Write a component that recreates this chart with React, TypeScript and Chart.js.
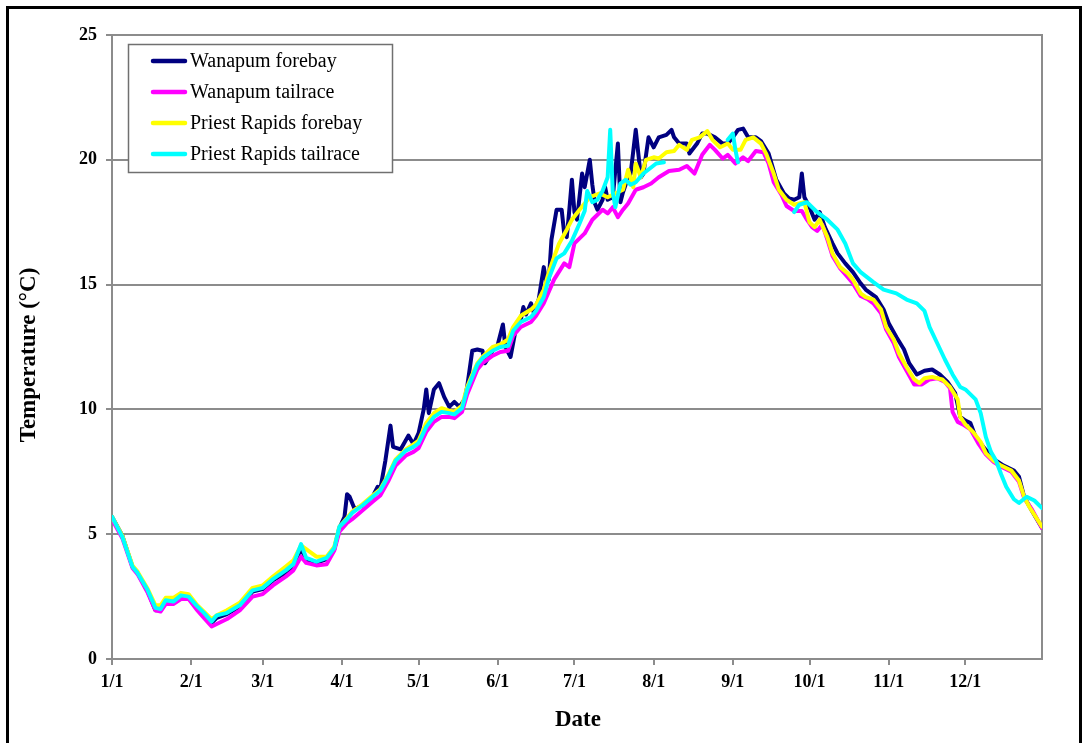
import React, { useEffect, useRef } from "react";
import { Chart, registerables } from "chart.js";

Chart.register(...registerables);

// Month tick positions (day of year) and their labels
const tickDays = [0, 31, 59, 90, 120, 151, 181, 212, 243, 273, 304, 334];
const tickLabels = ["1/1", "2/1", "3/1", "4/1", "5/1", "6/1", "7/1", "8/1", "9/1", "10/1", "11/1", "12/1"];

const seriesNames = ["Wanapum forebay", "Wanapum tailrace", "Priest Rapids forebay", "Priest Rapids tailrace"];
const seriesColors = ["#000080", "#FF00FF", "#FFFF00", "#00FFFF"];

// Wanapum forebay
const wfDays = [0, 4, 8, 10, 14, 17, 19, 21, 24, 27, 30, 33, 36, 39, 41, 45, 50, 55, 59, 63, 68, 71, 74, 76, 80, 84, 87, 89, 91, 92, 93, 95, 98, 102, 104, 105, 107, 109, 110, 113, 116, 118, 120, 122, 123, 124, 126, 128, 130, 132, 134, 136, 138, 139, 141, 143, 145, 146, 149, 151, 153, 154, 156, 158, 160, 161, 162, 164, 165, 167, 169, 170, 171, 172, 174, 176, 177, 178, 179, 180, 181, 182, 184, 185, 186, 187, 188, 189, 190, 192, 193, 194, 196, 198, 199, 200, 202, 203, 205, 206, 207, 208, 210, 212, 214, 217, 219, 220, 222, 225, 226, 229, 231, 233, 236, 239, 241, 243, 245, 247, 249, 252, 254, 257, 260, 263, 265, 267, 269, 270, 271, 273, 275, 277, 279, 282, 284, 287, 290, 293, 295, 299, 302, 304, 307, 310, 312, 315, 318, 321, 324, 327, 330, 332, 334, 336, 338, 341, 344, 346, 349, 353, 355, 357, 360, 364];
const wfTemps = [5.7, 4.95, 3.7, 3.45, 2.7, 1.95, 1.95, 2.3, 2.3, 2.5, 2.45, 2.1, 1.8, 1.45, 1.65, 1.8, 2.1, 2.7, 2.8, 3.15, 3.45, 3.65, 4.45, 3.95, 3.85, 4.0, 4.4, 5.25, 5.7, 6.6, 6.5, 6.0, 6.15, 6.5, 6.9, 6.8, 7.95, 9.35, 8.5, 8.4, 8.95, 8.6, 9.05, 10.0, 10.8, 9.85, 10.8, 11.05, 10.5, 10.1, 10.3, 10.1, 10.4, 10.9, 12.35, 12.4, 12.35, 11.85, 12.35, 12.6, 13.4, 12.5, 12.1, 13.2, 13.6, 14.1, 13.8, 14.25, 13.9, 14.4, 15.7, 15.1, 15.2, 16.8, 18.0, 18.0, 17.05, 16.9, 18.0, 19.2, 17.9, 17.6, 19.45, 18.9, 19.45, 20.0, 19.0, 18.25, 18.0, 18.4, 18.9, 18.4, 18.5, 20.65, 18.3, 18.7, 19.3, 19.45, 21.2, 20.25, 19.3, 19.45, 20.9, 20.5, 20.9, 21.0, 21.2, 20.9, 20.65, 20.65, 20.25, 20.65, 21.05, 21.05, 20.9, 20.65, 20.65, 20.9, 21.2, 21.25, 20.9, 20.9, 20.75, 20.25, 19.2, 18.65, 18.45, 18.4, 18.5, 19.45, 18.5, 18.1, 17.6, 17.9, 17.3, 16.65, 16.25, 15.85, 15.5, 15.05, 14.8, 14.5, 14.0, 13.45, 12.9, 12.4, 11.85, 11.4, 11.55, 11.6, 11.4, 11.1, 10.65, 9.7, 9.55, 9.45, 8.9, 8.5, 8.15, 7.95, 7.75, 7.55, 7.3, 6.5, 5.95, 5.25];

// Wanapum tailrace
const wtDays = [0, 4, 8, 10, 14, 17, 19, 21, 24, 27, 30, 33, 36, 39, 41, 45, 50, 55, 59, 63, 68, 71, 74, 76, 80, 84, 87, 89, 92, 94, 98, 102, 105, 108, 111, 115, 118, 120, 123, 126, 129, 132, 134, 137, 139, 141, 143, 145, 149, 152, 155, 157, 160, 164, 166, 169, 173, 177, 179, 181, 185, 188, 192, 194, 196, 198, 200, 202, 205, 208, 211, 214, 218, 222, 225, 228, 231, 234, 236, 239, 241, 244, 247, 249, 252, 255, 257, 259, 262, 264, 267, 270, 272, 274, 276, 278, 280, 282, 285, 288, 290, 293, 296, 298, 301, 303, 306, 308, 311, 314, 317, 320, 323, 326, 328, 329, 331, 333, 336, 339, 342, 345, 348, 352, 355, 357, 360, 364];
const wtTemps = [5.6, 4.85, 3.65, 3.4, 2.65, 1.95, 1.9, 2.2, 2.2, 2.4, 2.4, 2.0, 1.65, 1.3, 1.4, 1.6, 1.95, 2.5, 2.6, 2.95, 3.3, 3.55, 4.1, 3.85, 3.75, 3.8, 4.35, 5.1, 5.45, 5.6, 5.95, 6.3, 6.55, 7.1, 7.75, 8.15, 8.3, 8.45, 9.1, 9.5, 9.7, 9.7, 9.65, 9.9, 10.6, 11.1, 11.6, 11.85, 12.15, 12.3, 12.35, 12.95, 13.3, 13.5, 13.75, 14.25, 15.2, 15.85, 15.7, 16.65, 17.05, 17.6, 18.0, 17.85, 18.1, 17.7, 18.0, 18.25, 18.8, 18.9, 19.05, 19.3, 19.55, 19.6, 19.75, 19.45, 20.2, 20.6, 20.4, 20.05, 20.2, 19.85, 20.1, 19.95, 20.35, 20.3, 19.85, 19.1, 18.6, 18.15, 17.95, 17.95, 17.6, 17.3, 17.15, 17.4, 16.8, 16.15, 15.65, 15.3, 15.05, 14.55, 14.4, 14.25, 13.85, 13.2, 12.65, 12.1, 11.55, 11.0, 11.0, 11.2, 11.25, 11.1, 10.85, 9.9, 9.5, 9.4, 9.2, 8.65, 8.2, 7.9, 7.7, 7.5, 7.1, 6.45, 6.0, 5.25];

// Priest Rapids forebay
const pfDays = [0, 4, 8, 10, 14, 17, 19, 21, 24, 27, 30, 33, 36, 39, 41, 45, 50, 55, 59, 63, 68, 71, 74, 76, 80, 84, 87, 89, 92, 94, 98, 102, 105, 108, 111, 115, 118, 120, 123, 126, 129, 132, 134, 137, 139, 141, 143, 145, 149, 152, 155, 157, 160, 164, 166, 169, 171, 173, 175, 178, 180, 183, 187, 191, 194, 197, 200, 202, 204, 205, 207, 209, 212, 214, 217, 220, 222, 225, 227, 230, 233, 235, 238, 241, 243, 246, 248, 251, 254, 256, 259, 261, 264, 267, 269, 271, 273, 275, 277, 280, 282, 285, 288, 290, 293, 295, 298, 301, 303, 306, 308, 311, 314, 316, 318, 321, 325, 328, 331, 332, 334, 337, 340, 342, 345, 348, 352, 355, 357, 359, 364];
const pfTemps = [5.7, 4.95, 3.75, 3.5, 2.8, 2.15, 2.15, 2.45, 2.45, 2.65, 2.6, 2.2, 1.9, 1.6, 1.75, 1.95, 2.25, 2.85, 2.95, 3.3, 3.7, 3.95, 4.55, 4.4, 4.1, 4.1, 4.5, 5.3, 5.65, 5.9, 6.2, 6.55, 6.8, 7.35, 8.0, 8.4, 8.6, 8.75, 9.45, 9.85, 10.05, 9.95, 9.9, 10.15, 10.9, 11.4, 11.85, 12.1, 12.5, 12.6, 12.8, 13.3, 13.75, 14.0, 14.2, 14.8, 15.5, 16.1, 16.65, 17.2, 17.6, 18.0, 18.5, 18.65, 18.5, 18.65, 18.8, 19.6, 18.9, 19.85, 19.3, 20.0, 20.1, 20.05, 20.3, 20.35, 20.6, 20.4, 20.8, 20.9, 21.15, 20.8, 20.5, 20.65, 20.4, 20.4, 20.8, 20.9, 20.65, 20.25, 19.45, 18.8, 18.4, 18.2, 18.25, 18.3, 17.5, 17.3, 17.6, 16.9, 16.25, 15.7, 15.45, 15.2, 14.65, 14.5, 14.4, 14.0, 13.3, 12.8, 12.25, 11.7, 11.2, 11.05, 11.25, 11.3, 11.2, 10.9, 10.4, 9.7, 9.4, 9.1, 8.7, 8.25, 7.95, 7.75, 7.55, 7.15, 6.5, 6.1, 5.3];

// Priest Rapids tailrace (null = missing data)
const ptDays = [0, 4, 8, 10, 14, 17, 19, 21, 24, 27, 30, 33, 36, 39, 41, 45, 50, 55, 59, 63, 68, 71, 74, 76, 80, 84, 87, 89, 92, 94, 98, 102, 105, 108, 111, 115, 118, 120, 123, 126, 129, 132, 134, 137, 139, 141, 143, 145, 149, 152, 155, 157, 160, 164, 166, 169, 171, 174, 177, 180, 183, 185, 186, 188, 190, 192, 194, 195, 196, 197, 199, 201, 203, 205, 208, 213, 216, 229, 241, 243, 244, 245, 256, 267, 269, 272, 276, 280, 284, 287, 290, 293, 298, 302, 307, 311, 315, 318, 320, 323, 326, 329, 332, 334, 338, 340, 342, 344, 346, 348, 350, 353, 355, 358, 361, 364];
const ptTemps = [5.7, 4.9, 3.7, 3.45, 2.75, 2.05, 2.0, 2.35, 2.3, 2.55, 2.5, 2.15, 1.85, 1.5, 1.75, 1.85, 2.15, 2.75, 2.85, 3.2, 3.55, 3.8, 4.6, 4.05, 3.9, 4.05, 4.45, 5.3, 5.6, 5.85, 6.15, 6.5, 6.75, 7.3, 7.95, 8.35, 8.5, 8.65, 9.3, 9.7, 9.9, 9.85, 9.8, 10.05, 10.8, 11.3, 11.8, 12.05, 12.35, 12.5, 12.55, 13.15, 13.5, 13.7, 13.95, 14.5, 15.25, 16.05, 16.25, 16.75, 17.45, 17.95, 18.75, 18.3, 18.4, 18.75, 19.3, 21.2, 18.7, 18.1, 19.05, 19.2, 19.0, 19.1, 19.45, 19.85, 19.9, null, 20.8, 21.05, 20.4, 19.9, null, 17.9, 18.2, 18.3, 17.9, 17.6, 17.2, 16.65, 15.85, 15.5, 15.1, 14.8, 14.65, 14.4, 14.25, 13.95, 13.3, 12.65, 12.0, 11.4, 10.9, 10.8, 10.4, 9.85, 8.9, 8.3, 7.95, 7.4, 6.9, 6.4, 6.25, 6.5, 6.35, 6.05];

const serifFont = '"Liberation Serif", "Times New Roman", serif';
const gridGray = "#8c8c8c";

export default function App() {
  const canvasRef = useRef<HTMLCanvasElement | null>(null);

  useEffect(() => {
    const canvas = canvasRef.current;
    if (!canvas) return;

    const toPoints = (days: number[], temps: (number | null)[]) =>
      days.map((d, i) => ({ x: d, y: temps[i] }));

    const allDays = [wfDays, wtDays, pfDays, ptDays];
    const allTemps = [wfTemps, wtTemps, pfTemps, ptTemps];

    const datasets = seriesNames.map((name, i) => ({
      label: name,
      data: toPoints(allDays[i], allTemps[i]),
      borderColor: seriesColors[i],
      backgroundColor: seriesColors[i],
      borderWidth: 4,
      pointRadius: 0,
      tension: 0,
      spanGaps: false,
      borderCapStyle: "round" as const,
      borderJoinStyle: "round" as const,
      order: seriesNames.length - i,
    }));

    const plotFrame = {
      id: "plotFrame",
      beforeDatasetsDraw(chart: any) {
        const { ctx, chartArea } = chart;
        ctx.save();
        ctx.strokeStyle = gridGray;
        ctx.lineWidth = 2;
        ctx.strokeRect(chartArea.left, chartArea.top, chartArea.right - chartArea.left, chartArea.bottom - chartArea.top);
        ctx.restore();
      },
    };

    const boxLegend = {
      id: "boxLegend",
      afterDraw(chart: any) {
        const { ctx, chartArea } = chart;
        const bx = chartArea.left + 16;
        const by = chartArea.top + 9;
        const bw = 264;
        const bh = 128;
        ctx.save();
        ctx.fillStyle = "#ffffff";
        ctx.fillRect(bx, by, bw, bh);
        ctx.strokeStyle = "#707070";
        ctx.lineWidth = 1.5;
        ctx.strokeRect(bx + 0.5, by + 0.5, bw, bh);
        ctx.font = `20px ${serifFont}`;
        ctx.textBaseline = "middle";
        ctx.textAlign = "left";
        seriesNames.forEach((name, i) => {
          const y = by + 17 + i * 31;
          ctx.strokeStyle = seriesColors[i];
          ctx.lineWidth = 4.5;
          ctx.lineCap = "round";
          ctx.beginPath();
          ctx.moveTo(bx + 25, y);
          ctx.lineTo(bx + 57, y);
          ctx.stroke();
          ctx.fillStyle = "#000";
          ctx.fillText(name, bx + 62, y + 1);
        });
        ctx.restore();
      },
    };

    const axisTitles = {
      id: "axisTitles",
      afterDraw(chart: any) {
        const { ctx, chartArea } = chart;
        ctx.save();
        ctx.fillStyle = "#000";
        ctx.font = `bold 23px ${serifFont}`;
        ctx.textAlign = "center";
        ctx.textBaseline = "middle";
        ctx.fillText("Date", (chartArea.left + chartArea.right) / 2 + 1, chartArea.bottom + 61);
        ctx.translate(29, (chartArea.top + chartArea.bottom) / 2 + 8);
        ctx.rotate(-Math.PI / 2);
        ctx.fillText("Temperature (°C)", 0, 0);
        ctx.restore();
      },
    };

    const tickFont = { family: serifFont, size: 18, weight: "bold" as const };

    const chart = new Chart(canvas, {
      type: "line",
      data: { datasets: datasets as any },
      options: {
        responsive: false,
        animation: false,
        devicePixelRatio: 1,
        layout: { padding: { top: 35, right: 46, left: 0, bottom: 0 } },
        plugins: {
          legend: { display: false },
          tooltip: { enabled: false },
        },
        scales: {
          x: {
            type: "linear",
            min: 0,
            max: 364,
            afterBuildTicks: (scale: any) => {
              scale.ticks = tickDays.map((v) => ({ value: v }));
            },
            afterFit: (scale: any) => {
              scale.height = 84;
            },
            ticks: {
              autoSkip: false,
              maxRotation: 0,
              padding: 7,
              color: "#000",
              font: tickFont,
              callback: (_v: any, index: number) => tickLabels[index],
            },
            grid: { drawOnChartArea: false, drawTicks: true, tickLength: 6, color: gridGray, lineWidth: 2 },
            border: { display: true, color: gridGray, width: 2 },
          },
          y: {
            min: 0,
            max: 25,
            afterFit: (scale: any) => {
              scale.width = 112;
            },
            ticks: { stepSize: 5, padding: 9, color: "#000", font: tickFont },
            grid: { color: gridGray, lineWidth: 2, tickLength: 6 },
            border: { display: true, color: gridGray, width: 2 },
          },
        },
      },
      plugins: [plotFrame, boxLegend, axisTitles],
    });

    return () => chart.destroy();
  }, []);

  return (
    <div style={{ position: "fixed", left: 0, top: 0, width: 1088, height: 743, overflow: "hidden", background: "#fff" }}>
      <canvas ref={canvasRef} width={1088} height={743} style={{ position: "absolute", left: 0, top: 0 }} />
      <div
        style={{
          position: "absolute",
          left: 6,
          top: 6,
          width: 1076,
          height: 800,
          border: "3px solid #000",
          boxSizing: "border-box",
          pointerEvents: "none",
        }}
      />
    </div>
  );
}
